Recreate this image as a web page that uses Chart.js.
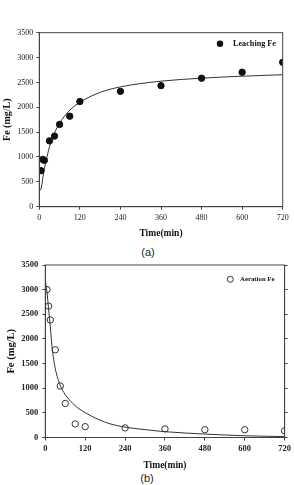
<!DOCTYPE html>
<html>
<head>
<meta charset="utf-8">
<script src="https://cdn.jsdelivr.net/npm/chart.js@4/dist/chart.umd.min.js"></script>
<style>
  body { margin: 0; background: #fff; width: 294px; height: 485px; position: relative; overflow: hidden; }
  .box { position: absolute; left: 0; width: 294px; }
  .cap { position: absolute; left: 0; width: 294px; text-align: center; font: 11px "Liberation Sans", Arial, sans-serif; color: #222; }
</style>
</head>
<body>
<div class="box" style="top:0;height:245px"><canvas id="chartA"></canvas></div>
<div class="cap" style="top:246px;left:1px">(a)</div>
<div class="box" style="top:250px;height:222px"><canvas id="chartB"></canvas></div>
<div class="cap" style="top:472px">(b)</div>
<script>
// leaching (a)
const leachTime = [5, 10, 15, 30, 45, 60, 90, 120, 240, 360, 480, 600, 720];
const leachFe = [724, 952, 932, 1325, 1420, 1655, 1820, 2115, 2320, 2435, 2585, 2705, 2905];
const leachFitTime = [4, 7, 10, 15, 20, 30, 45, 60, 90, 120, 180, 240, 360, 480, 600, 720];
const leachFitFe = [330, 420, 560, 760, 920, 1200, 1480, 1680, 1940, 2100, 2300, 2410, 2525, 2585, 2625, 2655];

// aeration (b)
const aerTime = [5, 10, 15, 30, 45, 60, 90, 120, 240, 360, 480, 600, 720];
const aerFe = [3000, 2665, 2385, 1780, 1045, 690, 275, 220, 195, 175, 158, 158, 135];
const aerFitTime = [0, 5, 10, 15, 20, 30, 45, 60, 90, 120, 180, 240, 300, 360, 480, 600, 720];
const aerFitFe = [3180, 2950, 2600, 2250, 1850, 1400, 1060, 870, 645, 505, 310, 210, 160, 118, 70, 35, 18];

const xTicks = [0, 120, 240, 360, 480, 600, 720];
const yTicks = [0, 500, 1000, 1500, 2000, 2500, 3000, 3500];

const ink = '#222';
const serif = '"Liberation Serif", "Times New Roman", serif';

function toXY(xs, ys) {
    return xs.map((x, i) => ({x: x, y: ys[i]}));
}

// frame around plot + legend inside top-right corner
const framePlugin = {
    id: 'frame',
    afterDraw(chart, args, opts) {
        const a = chart.chartArea, ctx = chart.ctx;
        ctx.save();
        ctx.strokeStyle = '#444';
        ctx.lineWidth = 1;
        ctx.strokeRect(a.left, a.top, a.right - a.left, a.bottom - a.top);
        // legend
        const ds = chart.data.datasets[0];
        ctx.beginPath();
        ctx.arc(opts.mx, opts.my, opts.r, 0, Math.PI * 2);
        if (opts.filled) { ctx.fillStyle = '#111'; ctx.fill(); }
        else { ctx.strokeStyle = '#333'; ctx.stroke(); }
        ctx.fillStyle = '#111';
        ctx.font = 'bold ' + opts.size + 'px ' + serif;
        ctx.textBaseline = 'middle';
        ctx.fillText(ds.label, opts.tx, opts.my);
        ctx.restore();
    }
};

function makeChart(id, cfg) {
    const tickFont = {family: serif, size: cfg.tickSize, weight: cfg.tickWeight};
    const scales = {
        x: {
            type: 'linear', min: 0, max: 720,
            afterBuildTicks: s => { s.ticks = xTicks.map(v => ({value: v})); },
            afterFit: s => { s.height = cfg.xHeight; },
            border: {color: '#444'},
            grid: {drawOnChartArea: false, tickLength: 3, color: '#444'},
            ticks: {padding: 3, color: ink, font: tickFont, callback: v => String(v), maxRotation: 0},
            title: {display: true, text: 'Time(min)', color: '#111', padding: {top: 0, bottom: cfg.xTitlePad},
                    font: {family: serif, size: 9.5, weight: 'bold'}}
        },
        y: {
            type: 'linear', min: 0, max: 3500,
            afterBuildTicks: s => { s.ticks = yTicks.map(v => ({value: v})); },
            afterFit: s => { s.width = cfg.yWidth; },
            border: {color: '#444'},
            grid: {drawOnChartArea: false, tickLength: 3, color: '#444'},
            ticks: {padding: cfg.yPad, color: ink, font: tickFont, callback: v => String(v)},
            title: {display: true, text: 'Fe (mg/L)', color: '#111', padding: {top: cfg.yTitlePad, bottom: 0},
                    font: {family: serif, size: cfg.yTitleSize, weight: 'bold'}}
        }
    };
    if (cfg.rightTicks) {
        scales.y2 = {
            type: 'linear', position: 'right', min: 0, max: 3500,
            afterBuildTicks: s => { s.ticks = yTicks.map(v => ({value: v})); },
            afterFit: s => { s.width = 3; },
            border: {color: '#444'},
            grid: {drawOnChartArea: false, tickLength: 3, color: '#444'},
            ticks: {display: false}
        };
    }
    return new Chart(document.getElementById(id), {
        type: 'scatter',
        data: {
            datasets: [{
                label: cfg.label,
                data: toXY(cfg.times, cfg.values),
                pointRadius: 3.2,
                pointBackgroundColor: cfg.filled ? '#111' : 'rgba(0,0,0,0)',
                pointBorderColor: cfg.filled ? '#111' : '#333',
                pointBorderWidth: 1,
                showLine: false,
                order: 1
            }, {
                label: 'fit',
                data: toXY(cfg.fitTimes, cfg.fitValues),
                showLine: true,
                pointRadius: 0,
                borderColor: '#333',
                borderWidth: 1,
                cubicInterpolationMode: 'monotone',
                order: 2
            }]
        },
        options: {
            responsive: true,
            maintainAspectRatio: false,
            animation: false,
            layout: {padding: cfg.padding},
            plugins: {
                legend: {display: false},
                tooltip: {enabled: false},
                frame: cfg.legend
            },
            scales: scales
        },
        plugins: [framePlugin]
    });
}

makeChart('chartA', {
    label: 'Leaching Fe', filled: true,
    times: leachTime, values: leachFe, fitTimes: leachFitTime, fitValues: leachFitFe,
    tickSize: 8, tickWeight: 'normal',
    xHeight: 38.3, xTitlePad: 5.3, yWidth: 39.3, yPad: 3, yTitlePad: 1, yTitleSize: 10,
    padding: {top: 32.7, right: 11.3, left: 0, bottom: 0},
    legend: {mx: 220, my: 43.7, r: 3.2, filled: true, tx: 233, size: 8.2}
});

makeChart('chartB', {
    label: 'Aeration Fe', filled: false, rightTicks: true,
    times: aerTime, values: aerFe, fitTimes: aerFitTime, fitValues: aerFitFe,
    tickSize: 8.5, tickWeight: 'bold',
    xHeight: 34.5, xTitlePad: 0.6, yWidth: 45.3, yPad: 4, yTitlePad: 4.7, yTitleSize: 10.5,
    padding: {top: 15, right: 5.3, left: 0, bottom: 0},
    legend: {mx: 230.3, my: 29.3, r: 3, filled: false, tx: 240, size: 6.8}
});
</script>
</body>
</html>
